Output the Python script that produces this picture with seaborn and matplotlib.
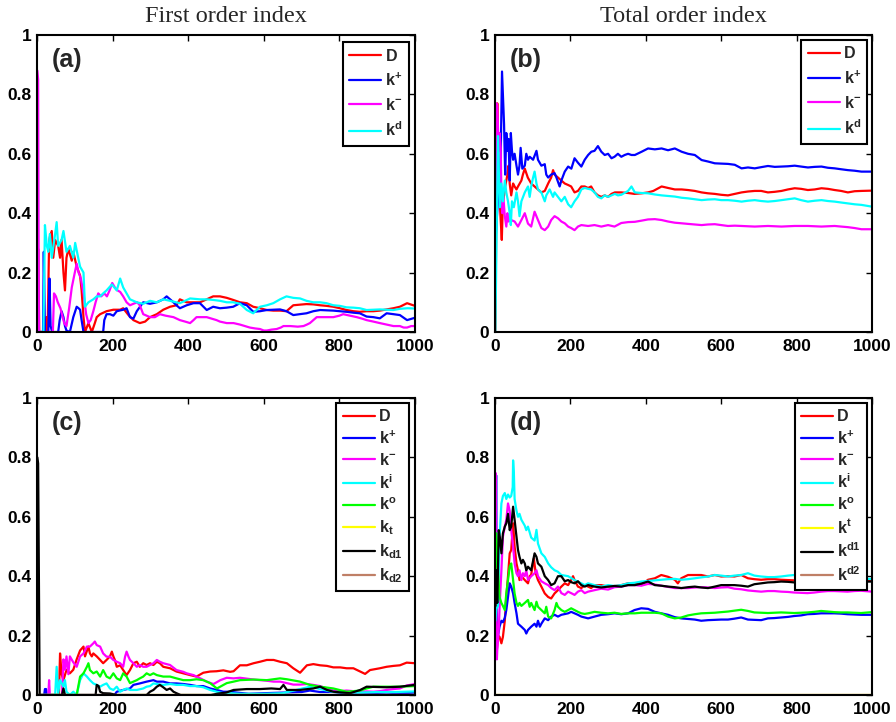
import numpy as np
import pandas as pd
import matplotlib
matplotlib.use("Agg")
import matplotlib.pyplot as plt
import seaborn as sns

# ---------------- data (x = sample count, y = sensitivity index) ----------------
x_ticks = [0, 200, 400, 600, 800, 1000]
y_ticks = [0, 0.2, 0.4, 0.6, 0.8, 1]
col_titles = ["First order index", "Total order index"]
panel_tags = ["(a)", "(b)", "(c)", "(d)"]

names_ab = ["D", "k+", "k-", "kd"]
labels_ab = ["D", r"$\mathbf{k}^{\mathbf{+}}$", r"$\mathbf{k}^{\mathbf{-}}$", r"$\mathbf{k}^{\mathbf{d}}$"]
colors_ab = ["#ff0000", "#0000ff", "#ff00ff", "#00ffff"]

names_cd = ["D", "k+", "k-", "ki", "ko", "kt", "kd1", "kd2"]
labels_c = ["D", r"$\mathbf{k}^{\mathbf{+}}$", r"$\mathbf{k}^{\mathbf{-}}$", r"$\mathbf{k}^{\mathbf{i}}$",
            r"$\mathbf{k}^{\mathbf{o}}$", r"$\mathbf{k}_{\mathbf{t}}$", r"$\mathbf{k}_{\mathbf{d1}}$",
            r"$\mathbf{k}_{\mathbf{d2}}$"]
labels_d = ["D", r"$\mathbf{k}^{\mathbf{+}}$", r"$\mathbf{k}^{\mathbf{-}}$", r"$\mathbf{k}^{\mathbf{i}}$",
            r"$\mathbf{k}^{\mathbf{o}}$", r"$\mathbf{k}^{\mathbf{t}}$", r"$\mathbf{k}^{\mathbf{d1}}$",
            r"$\mathbf{k}^{\mathbf{d2}}$"]
colors_cd = ["#ff0000", "#0000ff", "#ff00ff", "#00ffff", "#00ff00", "#ffff00", "#000000", "#bf7f66"]

# ----- panel (a): first order, 4 parameters -----
a_D = [(1,0),(3,0.28),(6,0),(20,0),(25,0.05),(28,0),(32,0.3),(34,0.32),(39,0.34),(43,0.25),
       (48,0.31),(56,0.29),(61,0.25),(65,0.31),(70,0.2),(74,0.14),(78,0.25),(83,0.28),(92,0.24),(96,0.27),
       (105,0.22),(114,0.19),(118,0.14),(123,0.05),(127,0),(136,0.03),(145,0),(153,0.03),(158,0.05),(167,0.06),
       (184,0.07),(202,0.075),(220,0.075),(228,0.08),(242,0.057),(255,0.04),(272,0.03),(286,0.035),(299,0.05),(317,0.06),
       (334,0.075),(352,0.085),(369,0.09),(378,0.11),(396,0.10),(414,0.10),(431,0.10),(449,0.11),(466,0.12),(484,0.12),
       (502,0.115),(519,0.108),(537,0.10),(555,0.097),(572,0.085),(590,0.08),(608,0.074),(625,0.072),(643,0.072),(660,0.07),
       (678,0.09),(695,0.092),(713,0.094),(731,0.093),(749,0.09),(766,0.088),(784,0.085),(801,0.08),(819,0.074),(837,0.07),
       (854,0.068),(872,0.07),(890,0.07),(907,0.072),(925,0.076),(943,0.08),(960,0.085),(979,0.097),(1000,0.088)]
a_kp = [(1,0),(16,0),(18,0.27),(21,0),(30,0),(33,0.18),(36,0.02),(40,0),(56,0),(60,0.04),(65,0.07),(70,0.05),
        (74,0.02),(78,0.005),(87,0),(96,0.05),(105,0.085),(110,0.08),(114,0.075),(118,0.04),(123,0),(175,0),
        (178,0.04),(184,0.06),(193,0.06),(202,0.055),(211,0.07),(228,0.075),(237,0.08),(246,0.05),(255,0.045),
        (264,0.07),(281,0.1),(299,0.095),(317,0.1),(334,0.11),(343,0.12),(352,0.11),(361,0.1),(369,0.09),(378,0.08),
        (396,0.09),(414,0.097),(431,0.097),(449,0.074),(466,0.085),(484,0.08),(502,0.082),(519,0.085),(537,0.097),
        (555,0.09),(572,0.068),(590,0.07),(608,0.074),(625,0.075),(643,0.076),(660,0.07),(678,0.057),(695,0.06),
        (713,0.063),(731,0.07),(749,0.074),(766,0.073),(784,0.072),(801,0.07),(819,0.068),(837,0.065),(854,0.063),
        (872,0.052),(890,0.05),(907,0.046),(925,0.063),(943,0.06),(960,0.057),(979,0.04),(1000,0.048)]
a_km = [(1,0.88),(3,0.85),(5,0.0),(42,0),(45,0.13),(50,0.12),(55,0.1),(62,0.08),(68,0.05),(72,0.03),(78,0.02),
        (85,0.08),(92,0.15),(100,0.2),(105,0.23),(110,0.2),(116,0.18),(123,0.13),(130,0.06),(136,0.03),(142,0.04),
        (149,0.07),(155,0.1),(162,0.13),(170,0.12),(178,0.13),(185,0.12),(192,0.14),(199,0.165),(206,0.15),(213,0.14),
        (220,0.135),(228,0.12),(237,0.1),(246,0.09),(255,0.095),(265,0.1),(272,0.09),(281,0.06),(290,0.055),(299,0.05),
        (312,0.05),(325,0.06),(340,0.055),(361,0.05),(378,0.04),(392,0.035),(405,0.03),(414,0.04),(422,0.05),(435,0.05),
        (449,0.05),(462,0.045),(475,0.04),(484,0.035),(502,0.03),(520,0.03),(537,0.025),(550,0.02),(563,0.015),
        (577,0.012),(590,0.01),(600,0.005),(608,0.005),(620,0.008),(634,0.01),(645,0.015),(652,0.02),(670,0.02),
        (690,0.018),(705,0.02),(714,0.025),(722,0.03),(731,0.04),(740,0.05),(760,0.05),(784,0.05),(800,0.055),
        (810,0.06),(828,0.055),(846,0.05),(860,0.045),(872,0.04),(890,0.035),(907,0.03),(925,0.025),(943,0.02),
        (960,0.02),(970,0.015),(979,0.015),(990,0.02),(1000,0.02)]
a_kd = [(1,0),(17,0),(21,0.36),(26,0.29),(30,0.27),(34,0.33),(39,0.25),(48,0.33),(52,0.37),(56,0.29),(65,0.31),
        (70,0.34),(78,0.27),(87,0.29),(96,0.25),(101,0.30),(109,0.25),(114,0.22),(123,0.2),(127,0.085),(136,0.1),
        (149,0.11),(158,0.12),(167,0.12),(175,0.13),(184,0.14),(198,0.16),(211,0.14),(220,0.18),(228,0.15),(237,0.13),
        (246,0.11),(264,0.1),(281,0.095),(299,0.105),(317,0.1),(334,0.11),(352,0.105),(378,0.097),(405,0.113),
        (431,0.11),(449,0.11),(466,0.108),(484,0.105),(502,0.1),(519,0.1),(537,0.095),(555,0.074),(572,0.063),
        (590,0.085),(608,0.09),(625,0.097),(643,0.11),(660,0.12),(678,0.115),(696,0.113),(713,0.105),(731,0.1),
        (749,0.1),(766,0.097),(784,0.09),(801,0.088),(819,0.083),(837,0.082),(854,0.08),(872,0.074),(890,0.075),
        (907,0.076),(925,0.075),(943,0.074),(960,0.078),(980,0.08),(1000,0.079)]

# ----- panel (b): total order, 4 parameters -----
b_D = [(1,0),(4,0.5),(6,0.77),(8,0.6),(11,0.48),(15,0.38),(18,0.31),(21,0.44),(24,0.46),(27,0.49),(33,0.53),
       (36,0.56),(39,0.5),(43,0.46),(48,0.5),(52,0.49),(57,0.48),(61,0.49),(70,0.51),(74,0.53),(79,0.55),(87,0.52),
       (96,0.5),(105,0.49),(114,0.48),(123,0.47),(132,0.475),(141,0.5),(149,0.52),(154,0.545),(158,0.53),(167,0.52),
       (176,0.51),(185,0.5),(194,0.495),(202,0.49),(211,0.47),(220,0.475),(229,0.49),(238,0.49),(247,0.485),
       (255,0.49),(264,0.47),(273,0.46),(282,0.455),(291,0.46),(300,0.455),(309,0.465),(318,0.47),(335,0.47),
       (353,0.468),(370,0.465),(389,0.467),(406,0.47),(420,0.475),(442,0.49),(459,0.485),(477,0.48),(495,0.48),
       (512,0.478),(530,0.475),(548,0.47),(565,0.467),(583,0.465),(600,0.462),(618,0.46),(636,0.465),(654,0.47),
       (671,0.473),(689,0.475),(706,0.475),(724,0.47),(742,0.472),(760,0.475),(777,0.48),(795,0.484),(812,0.482),
       (830,0.478),(848,0.48),(866,0.484),(883,0.482),(901,0.478),(918,0.475),(936,0.47),(954,0.474),(972,0.475),
       (1000,0.476)]
b_kp = [(1,0.3),(8,0.45),(14,0.5),(18.6,0.877),(24,0.70),(27,0.53),(30,0.67),(33,0.61),(36,0.65),(39,0.51),
        (42,0.67),(45,0.61),(48,0.58),(52,0.6),(57,0.56),(61,0.53),(65,0.56),(68,0.62),(72.5,0.55),(79,0.56),(83,0.6),
        (87.5,0.58),(92,0.59),(101,0.58),(110,0.61),(114,0.58),(123,0.56),(132,0.565),(136,0.53),(141,0.52),(149,0.53),
        (158,0.535),(163,0.52),(171.5,0.49),(176,0.51),(185,0.54),(194,0.557),(202.5,0.55),(211,0.585),(220,0.57),
        (229,0.557),(238,0.58),(247,0.596),(255.5,0.607),(264,0.61),(273,0.626),(282,0.607),(291,0.596),(300,0.60),
        (309,0.585),(317,0.59),(326,0.60),(335,0.59),(344,0.596),(353,0.60),(362,0.596),(371,0.596),(389,0.607),
        (406,0.618),(424,0.615),(442,0.618),(459,0.612),(477,0.618),(495,0.607),(512,0.60),(530,0.596),(548,0.579),
        (565,0.574),(583,0.568),(600,0.567),(618,0.566),(636,0.563),(654,0.551),(671,0.554),(689,0.551),(706,0.555),
        (724,0.559),(742,0.556),(760,0.557),(777,0.558),(795,0.56),(812,0.557),(830,0.554),(848,0.556),(866,0.557),
        (883,0.553),(901,0.551),(918,0.548),(936,0.545),(954,0.543),(972,0.54),(1000,0.54)]
b_km = [(1,0.3),(3.5,0.77),(6,0.76),(10,0.61),(12,0.67),(15,0.62),(17,0.467),(19.5,0.4),(22,0.457),(26,0.39),
        (30,0.355),(33,0.4),(36,0.372),(39,0.39),(43,0.377),(52,0.372),(61,0.355),(70,0.377),(79,0.4),(87.5,0.365),
        (96,0.355),(105,0.405),(114,0.377),(123,0.35),(132,0.343),(141,0.355),(149,0.377),(158,0.39),(167,0.383),
        (176,0.372),(185,0.366),(194,0.355),(202,0.35),(211,0.343),(220,0.355),(229,0.36),(247,0.357),(264,0.36),
        (282,0.355),(300,0.36),(317,0.355),(335,0.367),(353,0.37),(371,0.371),(389,0.375),(406,0.379),(424,0.38),
        (442,0.377),(459,0.372),(477,0.368),(495,0.366),(512,0.364),(530,0.362),(548,0.36),(565,0.362),(583,0.363),
        (600,0.36),(618,0.357),(636,0.358),(654,0.357),(671,0.356),(689,0.355),(706,0.356),(724,0.357),(742,0.356),
        (760,0.355),(777,0.356),(795,0.357),(812,0.357),(830,0.357),(848,0.356),(866,0.355),(883,0.356),(901,0.357),
        (918,0.355),(936,0.353),(954,0.35),(972,0.346),(1000,0.346)]
b_kd = [(1,0),(4,0.3),(8,0.66),(11,0.5),(13,0.42),(17,0.5),(21,0.44),(26,0.51),(30,0.47),(34.5,0.44),(39,0.4),
        (42,0.36),(45,0.44),(50,0.42),(57,0.47),(61,0.44),(65,0.39),(70,0.44),(79,0.47),(87.5,0.49),(92,0.455),
        (96,0.49),(101,0.52),(105,0.54),(110,0.5),(114,0.48),(123,0.47),(132,0.44),(136,0.46),(145,0.48),(154,0.455),
        (158,0.47),(167,0.455),(176,0.44),(185,0.455),(194,0.43),(202,0.42),(211,0.44),(220,0.455),(229,0.48),
        (238,0.485),(247,0.482),(255,0.48),(264,0.47),(273,0.455),(282,0.45),(291,0.46),(300,0.455),(309,0.46),
        (318,0.465),(326,0.46),(335,0.462),(353,0.475),(362,0.49),(371,0.47),(389,0.468),(406,0.467),(424,0.463),
        (442,0.46),(459,0.458),(477,0.456),(495,0.452),(512,0.45),(530,0.447),(548,0.444),(565,0.446),(583,0.447),
        (600,0.444),(618,0.444),(636,0.442),(654,0.439),(671,0.442),(689,0.444),(706,0.441),(724,0.439),(742,0.441),
        (760,0.444),(777,0.447),(795,0.45),(812,0.444),(830,0.439),(848,0.442),(866,0.444),(883,0.441),(901,0.439),
        (918,0.436),(936,0.433),(954,0.43),(972,0.428),(1000,0.422)]

# ----- panel (c): first order, 8 parameters -----
c_D = [(1,0),(58,0),(61,0.14),(65,0.07),(70,0.05),(78,0.085),(87,0.073),(96,0.085),(105,0.12),(114,0.15),
       (123,0.163),(127,0.13),(136,0.163),(140,0.14),(145,0.13),(149,0.14),(158,0.13),(167,0.118),(175,0.107),
       (184,0.118),(193,0.13),(198,0.146),(202,0.13),(206,0.118),(211,0.095),(220,0.1),(228,0.084),(237,0.067),
       (246,0.084),(255,0.107),(264,0.112),(272,0.095),(281,0.107),(290,0.101),(299,0.107),(308,0.101),(317,0.112),
       (325,0.107),(334,0.095),(352,0.09),(369,0.079),(387,0.073),(405,0.067),(422,0.062),(440,0.075),(458,0.079),
       (475,0.08),(493,0.083),(511,0.078),(520,0.08),(537,0.1),(555,0.1),(573,0.107),(590,0.112),(608,0.118),
       (626,0.118),(643,0.112),(661,0.107),(678,0.09),(696,0.075),(714,0.1),(731,0.104),(749,0.1),(767,0.098),
       (784,0.093),(802,0.093),(819,0.09),(837,0.09),(855,0.079),(868,0.071),(881,0.084),(907,0.09),(925,0.095),
       (943,0.098),(960,0.1),(978,0.109),(1000,0.107)]
c_kp = [(1,0),(19,0),(21,0.02),(24,0.02),(26,0),(205,0),(211,0.011),(228,0.017),(246,0.022),(255,0.034),
        (272,0.039),(290,0.045),(308,0.05),(317,0.045),(334,0.045),(352,0.039),(369,0.039),(387,0.037),(405,0.034),
        (422,0.03),(440,0.03),(458,0.022),(475,0.017),(493,0.011),(511,0.011),(530,0.008),(560,0.004),(600,0.006),
        (650,0.008),(700,0.01),(722,0.015),(749,0.01),(784,0.01),(819,0.005),(872,0.006),(925,0.008),(960,0.006),
        (1000,0.008)]
c_km = [(1,0),(30,0),(32,0.05),(34,0.0),(66,0),(70,0.12),(74,0.085),(78,0.13),(83,0.07),(87,0.13),(96,0.11),
        (105,0.095),(114,0.13),(123,0.14),(132,0.163),(140,0.163),(149,0.174),(153,0.18),(158,0.168),(167,0.163),
        (175,0.14),(184,0.129),(193,0.129),(202,0.118),(211,0.112),(220,0.107),(228,0.095),(233,0.129),(237,0.146),
        (242,0.129),(246,0.118),(255,0.107),(264,0.095),(272,0.101),(281,0.095),(290,0.095),(299,0.101),(308,0.107),
        (317,0.118),(325,0.112),(334,0.107),(352,0.101),(369,0.084),(387,0.078),(396,0.073),(414,0.067),(432,0.056),
        (449,0.045),(467,0.037),(485,0.05),(502,0.058),(520,0.056),(537,0.058),(555,0.055),(573,0.052),(590,0.05),
        (608,0.048),(626,0.045),(643,0.045),(661,0.04),(678,0.035),(696,0.035),(714,0.037),(731,0.034),(749,0.03),
        (767,0.022),(784,0.015),(802,0.013),(819,0.015),(837,0.013),(855,0.011),(872,0.012),(890,0.011),(907,0.013),
        (925,0.017),(943,0.02),(960,0.022),(978,0.032),(1000,0.037)]
c_ki = [(1,0),(48,0),(52,0.095),(56,0.006),(61,0.05),(70,0.028),(74,0.05),(78,0.011),(87,0),(96,0.011),(105,0),
        (114,0.05),(123,0.073),(132,0.062),(140,0.05),(149,0.039),(158,0.034),(167,0.028),(175,0.034),(184,0.039),
        (193,0.022),(202,0.017),(211,0.028),(220,0.011),(228,0.017),(237,0.022),(246,0.017),(264,0.017),(281,0.022),
        (290,0.028),(299,0.03),(308,0.039),(317,0.037),(334,0.034),(352,0.037),(369,0.034),(387,0.034),(405,0.03),
        (422,0.03),(440,0.026),(458,0.017),(475,0.011),(493,0.006),(511,0.006),(540,0.004),(600,0.004),(650,0.006),
        (696,0.02),(722,0.028),(749,0.02),(784,0.01),(850,0.008),(900,0.01),(950,0.01),(1000,0.012)]
c_ko = [(1,0),(105,0),(114,0.062),(123,0.073),(132,0.095),(136,0.107),(140,0.084),(149,0.073),(158,0.079),
        (167,0.062),(175,0.084),(184,0.062),(193,0.056),(202,0.073),(211,0.056),(220,0.05),(228,0.073),(237,0.062),
        (246,0.04),(255,0.045),(264,0.05),(272,0.056),(281,0.062),(290,0.073),(299,0.067),(308,0.073),(317,0.067),
        (334,0.062),(352,0.062),(369,0.056),(387,0.05),(405,0.05),(422,0.053),(440,0.05),(458,0.04),(476,0.022),
        (502,0.04),(520,0.045),(537,0.05),(573,0.052),(608,0.05),(643,0.056),(661,0.053),(696,0.045),(722,0.034),
        (749,0.028),(784,0.022),(819,0.011),(855,0.015),(872,0.022),(890,0.028),(925,0.028),(960,0.028),(1000,0.03)]
c_kt = [(1,0),(1000,0)]
c_kd1 = [(1,0.8),(3,0.78),(5,0.4),(7,0),(66,0),(70,0.022),(74,0),(155,0),(158,0.034),(163,0.03),(167,0.011),
         (175,0.006),(193,0.005),(211,0),(290,0),(299,0.011),(308,0.017),(317,0.028),(325,0.034),(334,0.026),
         (343,0.017),(352,0.022),(361,0.011),(369,0.006),(380,0),(460,0),(480,0.005),(500,0.008),(520,0.017),
         (555,0.02),(590,0.02),(620,0.022),(643,0.02),(652,0.034),(661,0.017),(696,0.017),(731,0.022),(749,0.028),
         (767,0.017),(784,0.011),(828,0.006),(855,0.017),(872,0.028),(925,0.026),(960,0.028),(1000,0.034)]
c_kd2 = [(1,0),(1000,0)]

# ----- panel (d): total order, 8 parameters -----
d_D = [(1,0.2),(3.5,0.13),(8,0.2),(12,0.196),(17,0.174),(21,0.196),(26,0.25),(30,0.33),(34.5,0.4),(39,0.477),
       (43,0.488),(48,0.578),(52,0.5),(57,0.443),(61,0.42),(65,0.387),(70,0.4),(79,0.387),(87.5,0.376),(92,0.4),
       (96,0.405),(103,0.46),(108,0.41),(114,0.387),(123,0.365),(132,0.342),(141,0.33),(149,0.325),(158,0.342),
       (167,0.353),(176,0.365),(185,0.376),(194,0.37),(202,0.387),(207,0.4),(211,0.387),(220,0.365),(229,0.36),
       (238,0.37),(247,0.365),(255,0.36),(264,0.37),(282,0.37),(300,0.365),(317,0.367),(335,0.37),(353,0.376),
       (371,0.376),(388,0.37),(406,0.388),(424,0.393),(441,0.404),(459,0.398),(477,0.388),(485,0.376),(494,0.393),
       (512,0.404),(530,0.404),(547,0.404),(565,0.399),(583,0.404),(600,0.399),(618,0.4),(635,0.399),(653,0.404),
       (671,0.393),(688,0.39),(706,0.388),(724,0.39),(741,0.39),(759,0.388),(777,0.387),(794,0.386),(830,0.385),
       (870,0.384),(910,0.385),(950,0.384),(1000,0.385)]
d_kp = [(1,0.13),(3,0.74),(5,0.2),(8,0.2),(12,0.23),(17,0.25),(21,0.245),(26,0.26),(30,0.286),(34.5,0.33),
        (39,0.376),(43,0.365),(48,0.342),(52,0.31),(57,0.275),(61,0.24),(70,0.23),(79,0.219),(83,0.207),(87.5,0.219),
        (96,0.23),(105,0.24),(110,0.23),(114,0.25),(119,0.23),(123,0.24),(132,0.258),(141,0.252),(149,0.264),
        (158,0.27),(167,0.264),(176,0.27),(194,0.275),(202,0.28),(211,0.275),(220,0.27),(229,0.264),(247,0.258),
        (264,0.264),(282,0.27),(300,0.272),(317,0.275),(335,0.272),(353,0.275),(370,0.286),(388,0.292),(406,0.29),
        (424,0.28),(441,0.275),(459,0.27),(477,0.262),(494,0.258),(512,0.256),(530,0.254),(547,0.25),(565,0.252),
        (583,0.253),(600,0.254),(618,0.254),(635,0.257),(653,0.261),(671,0.254),(688,0.253),(706,0.252),(724,0.258),
        (741,0.259),(759,0.261),(777,0.263),(794,0.266),(812,0.268),(829,0.272),(847,0.273),(865,0.275),(883,0.275),
        (900,0.275),(918,0.274),(935,0.272),(953,0.271),(971,0.27),(1000,0.27)]
d_km = [(1,0.3),(2,0.747),(4,0.3),(5,0.12),(6,0.15),(10,0.22),(12,0.29),(17,0.42),(21,0.533),(26,0.567),
        (30,0.59),(34.5,0.645),(39,0.62),(43,0.556),(48,0.5),(52,0.443),(57,0.41),(61,0.4),(65,0.42),(70,0.387),
        (74,0.41),(79,0.4),(83,0.42),(87.5,0.387),(96,0.4),(105,0.41),(110,0.42),(114,0.4),(123,0.383),(132,0.376),
        (141,0.37),(149,0.36),(158,0.353),(167,0.365),(176,0.343),(185,0.337),(194,0.348),(202,0.343),(211,0.337),
        (220,0.348),(229,0.353),(238,0.343),(247,0.348),(264,0.353),(282,0.358),(300,0.355),(317,0.363),(335,0.365),
        (353,0.37),(371,0.37),(388,0.368),(406,0.374),(424,0.372),(441,0.368),(459,0.364),(477,0.36),(494,0.36),
        (512,0.36),(530,0.362),(547,0.363),(565,0.362),(583,0.36),(600,0.362),(618,0.363),(635,0.358),(653,0.356),
        (671,0.352),(688,0.35),(706,0.348),(724,0.35),(741,0.35),(759,0.348),(777,0.347),(794,0.345),(812,0.344),
        (829,0.343),(847,0.345),(865,0.348),(883,0.35),(900,0.35),(918,0.349),(935,0.348),(953,0.35),(971,0.351),
        (1000,0.348)]
d_ki = [(1,0.25),(3.5,0.29),(8,0.3),(12,0.53),(17,0.645),(21,0.67),(26,0.68),(30,0.66),(34.5,0.675),(39,0.665),
        (43,0.67),(47,0.70),(48,0.79),(50,0.75),(52,0.66),(57,0.62),(61,0.6),(65,0.61),(70,0.59),(79,0.57),(83,0.555),
        (87.5,0.567),(96,0.53),(105,0.52),(110,0.556),(114,0.51),(123,0.477),(132,0.465),(141,0.443),(149,0.43),
        (158,0.42),(167,0.415),(176,0.404),(194,0.4),(211,0.387),(229,0.376),(238,0.37),(247,0.376),(264,0.37),
        (282,0.365),(300,0.37),(317,0.367),(335,0.37),(353,0.376),(371,0.378),(388,0.382),(406,0.384),(424,0.386),
        (441,0.388),(459,0.39),(477,0.391),(494,0.388),(512,0.39),(530,0.393),(547,0.396),(565,0.399),(583,0.404),
        (600,0.402),(618,0.399),(635,0.402),(653,0.404),(671,0.41),(688,0.402),(706,0.399),(724,0.397),(741,0.397),
        (759,0.399),(777,0.402),(794,0.404),(830,0.405),(870,0.405),(910,0.4),(950,0.395),(1000,0.39)]
d_ko = [(1,0.3),(2,0.545),(3.5,0.544),(8,0.42),(12,0.33),(17,0.31),(21,0.3),(26,0.286),(30,0.342),(34.5,0.387),
        (39,0.432),(43,0.443),(48,0.387),(52,0.342),(57,0.31),(61,0.3),(65,0.31),(70,0.3),(79,0.31),(87.5,0.32),
        (92,0.297),(96,0.31),(105,0.286),(110,0.314),(114,0.297),(123,0.286),(132,0.275),(136,0.297),(141,0.264),
        (149,0.258),(158,0.286),(163,0.31),(167,0.297),(176,0.286),(185,0.28),(194,0.286),(202,0.292),(211,0.286),
        (220,0.28),(229,0.275),(238,0.273),(247,0.275),(264,0.28),(282,0.277),(300,0.275),(317,0.277),(335,0.273),
        (353,0.275),(371,0.275),(388,0.277),(406,0.277),(424,0.277),(441,0.275),(459,0.264),(477,0.258),(494,0.261),
        (512,0.268),(530,0.272),(547,0.275),(565,0.276),(583,0.277),(600,0.279),(618,0.281),(635,0.284),(653,0.287),
        (671,0.283),(688,0.278),(706,0.277),(724,0.276),(741,0.277),(759,0.278),(777,0.277),(794,0.276),(812,0.277),
        (829,0.278),(847,0.28),(865,0.283),(883,0.281),(900,0.279),(918,0.278),(935,0.278),(953,0.277),(971,0.276),
        (1000,0.279)]
d_kt = [(1,0),(1000,0)]
d_kd1 = [(1,0.3),(3.5,0.42),(6,0.31),(10,0.555),(13,0.53),(17,0.477),(21,0.544),(26,0.567),(30,0.578),(34.5,0.61),
         (39,0.555),(43,0.567),(48,0.634),(52,0.59),(57,0.533),(61,0.488),(65,0.465),(70,0.443),(74,0.455),(79,0.443),
         (83,0.42),(87.5,0.432),(96,0.42),(105,0.477),(110,0.465),(114,0.443),(123,0.432),(132,0.4),(141,0.387),
         (149,0.37),(158,0.376),(167,0.4),(176,0.4),(185,0.383),(194,0.387),(202,0.38),(211,0.376),(220,0.383),
         (229,0.37),(238,0.365),(247,0.37),(264,0.365),(282,0.362),(300,0.365),(317,0.367),(335,0.365),(353,0.37),
         (371,0.37),(388,0.375),(406,0.382),(424,0.37),(441,0.368),(459,0.365),(477,0.363),(494,0.36),(512,0.363),
         (530,0.365),(547,0.362),(565,0.36),(583,0.365),(600,0.37),(618,0.37),(635,0.37),(653,0.368),(671,0.365),
         (688,0.373),(706,0.376),(724,0.379),(741,0.38),(759,0.382),(777,0.381),(794,0.379),(830,0.38),(870,0.382),
         (910,0.382),(950,0.381),(1000,0.382)]
d_kd2 = [(1,0),(1000,0)]

panels = [
    (names_ab, labels_ab, colors_ab, [a_D, a_kp, a_km, a_kd]),
    (names_ab, labels_ab, colors_ab, [b_D, b_kp, b_km, b_kd]),
    (names_cd, labels_c, colors_cd, [c_D, c_kp, c_km, c_ki, c_ko, c_kt, c_kd1, c_kd2]),
    (names_cd, labels_d, colors_cd, [d_D, d_kp, d_km, d_ki, d_ko, d_kt, d_kd1, d_kd2]),
]

# ---------------- styling ----------------
sns.set_theme(style="white")
plt.rcParams["font.family"] = ["Liberation Sans", "DejaVu Sans"]
plt.rcParams["font.weight"] = "bold"
plt.rcParams["mathtext.fontset"] = "custom"
plt.rcParams["mathtext.rm"] = "Liberation Sans:bold"
plt.rcParams["mathtext.bf"] = "Liberation Sans:bold"
plt.rcParams["mathtext.it"] = "Liberation Sans:bold"

fig = plt.figure(figsize=(8.96, 7.22), dpi=100)
W, H = 896.0, 722.0
boxes = [(37, 35, 378, 297), (495, 35, 377, 297), (37, 398, 378, 297), (495, 398, 377, 297)]
leg_anchor = [(0.984, 0.976), (0.987, 0.983), (0.984, 0.983), (0.987, 0.984)]

for i, (names, labels, colors, series) in enumerate(panels):
    l, t, w, h = boxes[i]
    ax = fig.add_axes([l / W, 1 - (t + h) / H, w / W, h / H])
    for name, lab, col, pts in zip(names, labels, colors, series):
        df = pd.DataFrame(pts, columns=["n", "S"])
        sns.lineplot(data=df, x="n", y="S", ax=ax, color=col, linewidth=1.6,
                     estimator=None, sort=False, label=lab)
    ax.set_xlim(0, 1000)
    ax.set_ylim(0, 1)
    ax.set_xticks(x_ticks)
    ax.set_yticks(y_ticks)
    ax.set_xticklabels([str(v) for v in x_ticks])
    ax.set_yticklabels(["0", "0.2", "0.4", "0.6", "0.8", "1"])
    ax.set_xlabel("")
    ax.set_ylabel("")
    for s in ax.spines.values():
        s.set_linewidth(1.5)
        s.set_color("black")
    ax.tick_params(direction="in", length=4, width=1, top=True, right=True, labelsize=12.5,
                   colors="black")
    ax.tick_params(axis="x", pad=5)
    ax.tick_params(axis="y", pad=4)
    for lbl in ax.get_xticklabels() + ax.get_yticklabels():
        lbl.set_fontweight("bold")
    ax.text(0.04, 0.915, panel_tags[i], transform=ax.transAxes, fontsize=18,
            fontweight="bold", va="center", ha="left")
    leg = ax.legend(loc="upper right", bbox_to_anchor=leg_anchor[i], borderaxespad=0,
                    prop={"family": "Liberation Sans", "weight": "bold", "size": 11.5},
                    frameon=True, fancybox=False, framealpha=1, edgecolor="black",
                    handlelength=2.0, handletextpad=0.25, borderpad=0.4,
                    labelspacing=0.5 if i < 2 else 0.32)
    leg.get_frame().set_linewidth(1.5)
    for lh in leg.get_lines():
        lh.set_linewidth(1.6)

for j, title in enumerate(col_titles):
    l, t, w, h = boxes[j]
    fig.text((l + w / 2) / W, 1 - 17 / H, title, ha="center", va="center",
             family="Liberation Serif", fontweight="normal", fontsize=17.5)

fig.savefig("out.png", dpi=100)
